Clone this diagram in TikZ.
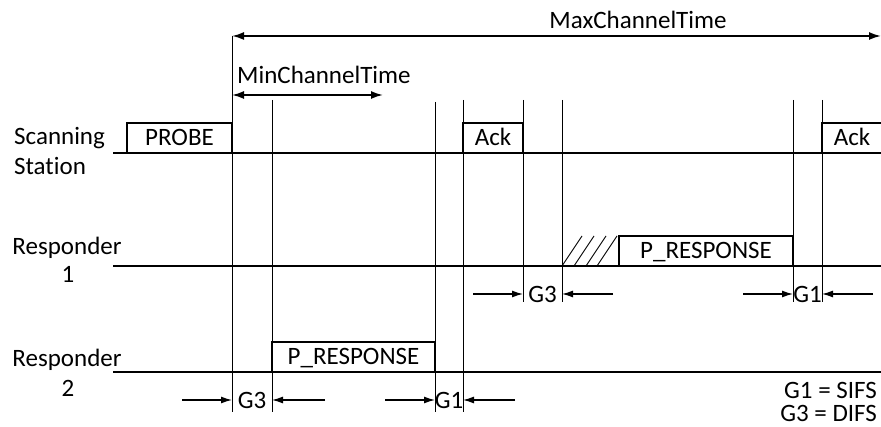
\documentclass[tikz,border=0pt]{standalone}
\usepackage{fontspec}
\setmainfont[Ligatures=NoCommon]{Carlito}
\usetikzlibrary{arrows.meta}
\begin{document}
\begin{tikzpicture}[x=1pt,y=-1pt,
  font=\fontsize{25}{30}\selectfont,
  timeline/.style={line width=1.3pt},
  vline/.style={line width=0.9pt},
  frame/.style={draw,line width=1.8pt,inner sep=0pt,minimum height=30pt,text height=16pt,text depth=0pt},
  lbl/.style={inner sep=0pt},
  legend/.style={inner sep=0pt,text height=16pt,text depth=0pt},
  span/.style={line width=1.8pt,{Latex[length=12pt,width=8pt]}-{Latex[length=12pt,width=8pt]}},
  gap/.style={line width=1.3pt,-{Latex[length=11pt,width=7pt]}},
  hatch/.style={line width=0.9pt}
]
\useasboundingbox (0,0) rectangle (881,427);

% station labels
\node[lbl,anchor=base west] (scA) at (14,145) {Scanning};
\node[lbl,anchor=base west] (scB) at (14,175) {Station};
\node[lbl,anchor=base] (r1A) at (67,255) {Responder};
\node[lbl,anchor=base] (r1B) at (68,283) {1};
\node[lbl,anchor=base] (r2A) at (67,367) {Responder};
\node[lbl,anchor=base] (r2B) at (68,397) {2};

% timelines
\coordinate (s0) at (113,153); \coordinate (s1) at (881,153);
\coordinate (a0) at (113,266); \coordinate (a1) at (881,266);
\coordinate (b0) at (113,372); \coordinate (b1) at (881,372);
\draw[timeline] (s0) -- (s1);
\draw[timeline] (a0) -- (a1);
\draw[timeline] (b0) -- (b1);

% vertical lines
\coordinate (v0t) at (232,36);  \coordinate (v0b) at (232,412);
\coordinate (v1t) at (272,100); \coordinate (v1b) at (272,412);
\coordinate (v2t) at (435,102); \coordinate (v2b) at (435,412);
\coordinate (v3t) at (463,100); \coordinate (v3b) at (463,412);
\coordinate (v4t) at (523,100); \coordinate (v4b) at (523,302);
\coordinate (v5t) at (562,100); \coordinate (v5b) at (562,302);
\coordinate (v6t) at (793,100); \coordinate (v6b) at (793,302);
\coordinate (v7t) at (822,100); \coordinate (v7b) at (822,302);
\foreach \i in {0,...,7} \draw[vline] (v\i t) -- (v\i b);

% frames
\node[frame,fill=white,minimum width=105pt] (probe) at (179.5,138) {PROBE};
\node[frame,fill=white,minimum width=60pt] (ack1) at (493,138) {Ack};
\node[frame,fill=white,minimum width=60pt] (ack2) at (852,138) {Ack};
\node[frame,fill=white,minimum width=174pt] (resp1) at (706,251) {P\_RESPONSE};
\node[frame,fill=white,minimum width=163pt] (resp2) at (353.5,357) {P\_RESPONSE};

% hatch
\foreach \xb/\xt in {562/582,574/594,586/606,597/617}
  \draw[hatch] (\xb,266) -- (\xt,236);

% channel time spans
\node[lbl] (maxl) at (638,20) {MaxChannelTime};
\coordinate (maxL) at (232,36); \coordinate (maxR) at (881,36);
\draw[span] (maxL) -- (maxR);
\node[lbl,anchor=west] (minl) at (237,75) {MinChannelTime};
\coordinate (minL) at (232,95); \coordinate (minR) at (383,95);
\draw[span] (minL) -- (minR);

% gaps, responder 2 row
\node[lbl] (g3b) at (252,400) {G3};
\node[lbl] (g1b) at (449,400) {G1};
\coordinate (p1) at (182,400); \coordinate (q1) at (232,400);
\coordinate (p2) at (325,400); \coordinate (q2) at (272,400);
\coordinate (p3) at (385,400); \coordinate (q3) at (435,400);
\coordinate (p4) at (515,400); \coordinate (q4) at (463,400);
% gaps, responder 1 row
\node[lbl] (g3a) at (542.5,294) {G3};
\node[lbl] (g1a) at (807.5,294) {G1};
\coordinate (p5) at (473,294); \coordinate (q5) at (523,294);
\coordinate (p6) at (613,294); \coordinate (q6) at (562,294);
\coordinate (p7) at (743,294); \coordinate (q7) at (793,294);
\coordinate (p8) at (873,294); \coordinate (q8) at (822,294);
\foreach \i in {1,...,8} \draw[gap] (p\i) -- (q\i);

% legend
\node[legend,anchor=base east] (leg1) at (877,399) {G1 = SIFS};
\node[legend,anchor=base east] (leg2) at (877,421) {G3 = DIFS};
\end{tikzpicture}
\end{document}
